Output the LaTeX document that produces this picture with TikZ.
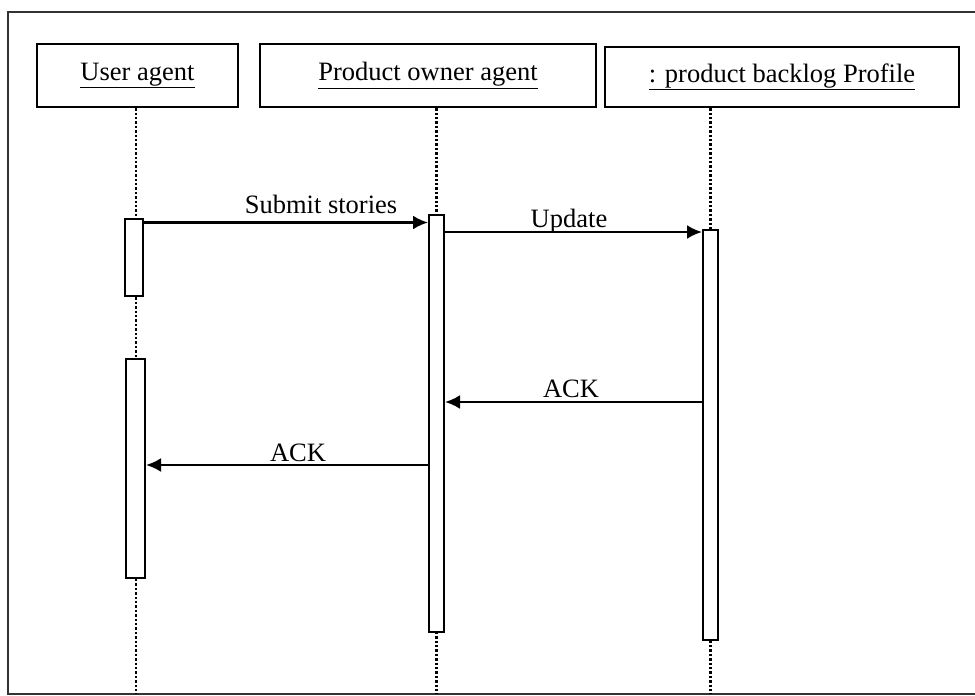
\documentclass[tikz,border=0pt]{standalone}
\usepackage{fontspec}
\setmainfont{Liberation Serif}
\usetikzlibrary{arrows.meta}
\begin{document}
\begin{tikzpicture}[x=1pt,y=-1pt,
  headbox/.style={draw,line width=2.2pt,fill=white,inner sep=0pt,font=\fontsize{26.5}{30}\selectfont},
  actbox/.style={draw,line width=2pt,fill=white,inner sep=0pt,minimum width=16pt},
  lifeline/.style={line width=2.4pt,dash pattern=on 2.4pt off 2pt},
  msg/.style={line width=2.4pt,-{Latex[length=15pt,width=14pt]}},
  msglabel/.style={anchor=base,inner sep=0pt,font=\fontsize{26.5}{30}\selectfont}]
\useasboundingbox (0,0) rectangle (975,696);
\fill[white] (0,0) rectangle (975,696);
\draw[line width=1.8pt,draw=black!80] (8,12) rectangle (985,694);
% heads
\node[headbox,minimum width=201pt,minimum height=63pt] (hu) at (137.5,75.5) {\underline{User agent}};
\node[headbox,minimum width=336pt,minimum height=63pt] (hp) at (428,75.5) {\underline{Product owner agent}};
\node[headbox,minimum width=354pt,minimum height=60pt] (hb) at (782,77) {\underline{: product backlog Profile}};
% lifeline ends
\coordinate (eu) at (136,694);
\coordinate (ep) at (436.5,694);
\coordinate (eb) at (710.5,694);
\draw[lifeline] (hu.south -| eu) -- (eu);
\draw[lifeline] (hp.south -| ep) -- (ep);
\draw[lifeline] (hb.south -| eb) -- (eb);
% activations
\node[actbox,minimum width=18pt,minimum height=77pt] (u1) at (134,257.5) {};
\node[actbox,minimum width=19pt,minimum height=219pt] (u2) at (135.5,468.5) {};
\node[actbox,minimum width=15pt,minimum height=417pt] (po) at (436.5,423) {};
\node[actbox,minimum width=15pt,minimum height=410pt] (bl) at (710.5,435) {};
% messages
\coordinate (m1) at (0,222.5);
\coordinate (m2) at (0,232);
\coordinate (m3) at (0,402);
\coordinate (m4) at (0,465);
\draw[msg] (u1.east |- m1) -- (po.west |- m1);
\draw[msg] (po.east |- m2) -- (bl.west |- m2);
\draw[msg] (bl.west |- m3) -- (po.east |- m3);
\draw[msg] (po.west |- m4) -- (u2.east |- m4);
\node[msglabel] (l1) at (321,213) {Submit stories};
\node[msglabel] (l2) at (569,227) {Update};
\node[msglabel] (l3) at (571,397) {ACK};
\node[msglabel] (l4) at (298,461) {ACK};
\end{tikzpicture}
\end{document}
